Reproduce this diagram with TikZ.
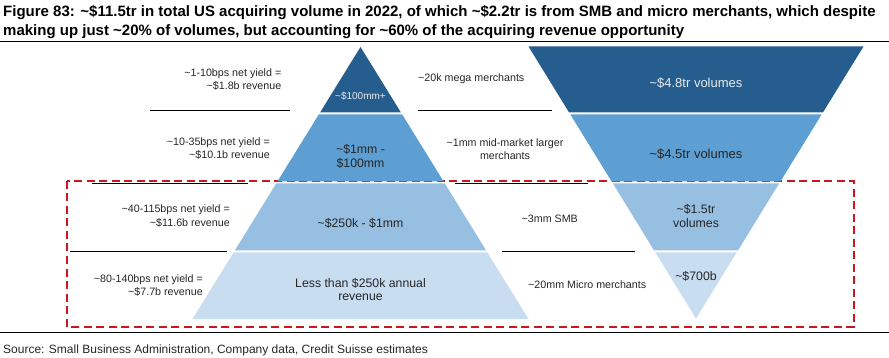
\documentclass[tikz,border=0pt]{standalone}
\usepackage{fontspec}
\setmainfont{Liberation Sans}
\definecolor{bandA}{HTML}{255E8E}
\definecolor{bandB}{HTML}{5E9FD3}
\definecolor{bandC}{HTML}{96BFE2}
\definecolor{bandD}{HTML}{C9DDF1}
\definecolor{txt}{HTML}{262626}
\definecolor{redbox}{HTML}{C9171E}
\begin{document}
\begin{tikzpicture}[x=1pt,y=-1pt,
  sep/.style={draw=black,line width=1pt},
  lbl/.style={font=\fontsize{10.7}{13.5}\selectfont,text=txt,inner sep=0pt,align=right,anchor=east},
  rlbl/.style={font=\fontsize{10.7}{13.5}\selectfont,text=txt,inner sep=0pt,align=left,anchor=west},
  inlbl/.style={font=\fontsize{12.3}{13.5}\selectfont,text=txt,inner sep=0pt,align=center},
  band/.style={draw=none}]
\useasboundingbox (0,0) rectangle (889,358);
% title
\node[anchor=west,inner sep=0pt,font=\bfseries\fontsize{15}{17}\selectfont] (t1) at (3,13)
  {Figure 83: \textasciitilde\$11.5tr in total US acquiring volume in 2022, of which \textasciitilde\$2.2tr is from SMB and micro merchants, which despite};
\node[anchor=west,inner sep=0pt,font=\bfseries\fontsize{15}{17}\selectfont] (t2) at (3,32)
  {making up just \textasciitilde20\% of volumes, but accounting for \textasciitilde60\% of the acquiring revenue opportunity};
\coordinate (tl) at (0,41.5); \coordinate (tr) at (889,41.5);
\draw[line width=1.2pt] (tl) -- (tr);
% red dashed box
\draw[redbox,line width=1.8pt,dash pattern=on 8pt off 4.5pt] (67,181) rectangle (854,326.7);
% separator lines
\coordinate (l1a) at (150,111); \coordinate (l1b) at (290,111);
\coordinate (l2a) at (92,184);  \coordinate (l2b) at (248,184);
\coordinate (l3a) at (70,252);  \coordinate (l3b) at (227,252);
\coordinate (r1a) at (418,111); \coordinate (r1b) at (552,111);
\coordinate (r2a) at (455,184); \coordinate (r2b) at (588,184);
\coordinate (r3a) at (502,252); \coordinate (r3b) at (635,252);
\draw[sep] (l1a) -- (l1b); \draw[sep] (l2a) -- (l2b); \draw[sep] (l3a) -- (l3b);
\draw[sep] (r1a) -- (r1b); \draw[sep] (r2a) -- (r2b); \draw[sep] (r3a) -- (r3b);
% pyramid (apex 360.5,47)
\fill[bandA] (360.5,47) -- (400.95,112.5) -- (320.05,112.5) -- cycle;
\fill[bandB] (318.8,114.5) -- (402.2,114.5) -- (443.6,181.5) -- (277.4,181.5) -- cycle;
\fill[bandC] (276.2,183.5) -- (444.8,183.5) -- (486.2,250.5) -- (234.8,250.5) -- cycle;
\fill[bandD] (233.6,252.5) -- (487.4,252.5) -- (528.5,319) -- (192.5,319) -- cycle;
% inverted pyramid (center 696)
\fill[bandA] (528.5,46.5) -- (863.5,46.5) -- (822.9,112.5) -- (569.1,112.5) -- cycle;
\fill[bandB] (570.4,114.5) -- (821.6,114.5) -- (780.4,181.5) -- (611.6,181.5) -- cycle;
\fill[bandC] (612.9,183.5) -- (779.1,183.5) -- (737.9,250.5) -- (654.1,250.5) -- cycle;
\fill[bandD] (655.4,252.5) -- (736.6,252.5) -- (696,318.5) -- cycle;
% pyramid labels
\node[inlbl,text=white!92!black,font=\fontsize{10}{12}\selectfont] (p1) at (360.5,96.5) {\textasciitilde\$100mm+};
\node[inlbl] (p2) at (360.5,156.5) {\textasciitilde\$1mm -\\\$100mm};
\node[inlbl] (p3) at (360.5,223) {\textasciitilde\$250k - \$1mm};
\node[inlbl] (p4) at (360.5,289.5) {Less than \$250k annual\\revenue};
% inverted labels
\node[inlbl,text=white!92!black,font=\fontsize{13}{14}\selectfont] (v1) at (696,83.5) {\textasciitilde\$4.8tr volumes};
\node[inlbl,font=\fontsize{13}{14}\selectfont] (v2) at (696,154) {\textasciitilde\$4.5tr volumes};
\node[inlbl] (v3) at (696,216) {\textasciitilde\$1.5tr\\volumes};
\node[inlbl] (v4) at (696,276) {\textasciitilde\$700b};
% left labels
\node[lbl] (y1) at (281.5,79.5) {\textasciitilde1-10bps net yield =\\\textasciitilde\$1.8b revenue};
\node[lbl] (y2) at (270,148.5) {\textasciitilde10-35bps net yield =\\\textasciitilde\$10.1b revenue};
\node[lbl] (y3) at (230,216) {\textasciitilde40-115bps net yield =\\\textasciitilde\$11.6b revenue};
\node[lbl] (y4) at (203,285.5) {\textasciitilde80-140bps net yield =\\\textasciitilde\$7.7b revenue};
% right labels
\node[rlbl] (m1) at (418,79) {\textasciitilde20k mega merchants};
\node[inlbl,font=\fontsize{10.7}{13.5}\selectfont] (m2) at (505,149) {\textasciitilde1mm mid-market larger\\merchants};
\node[rlbl] (m3) at (521.5,218.5) {\textasciitilde3mm SMB};
\node[rlbl] (m4) at (528,284.5) {\textasciitilde20mm Micro merchants};
% bottom
\coordinate (bl) at (0,332.5); \coordinate (br) at (889,332.5);
\draw[line width=1.2pt] (bl) -- (br);
\node[anchor=west,inner sep=0pt,font=\fontsize{12}{13}\selectfont,text=txt] (src) at (3,350)
  {Source: Small Business Administration, Company data, Credit Suisse estimates};
\end{tikzpicture}
\end{document}
